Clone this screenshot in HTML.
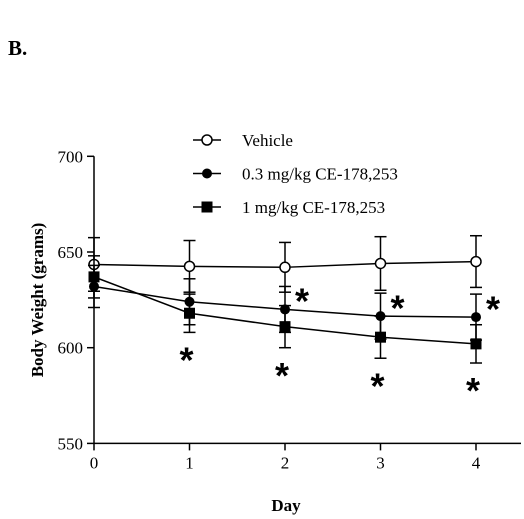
<!DOCTYPE html>
<html><head><meta charset="utf-8"><style>
body{margin:0;background:#fff;}
svg{display:block;font-family:"Liberation Serif",serif;}
</style></head><body>
<svg id="chart" width="524" height="519">
<text x="8" y="55" font-size="21" font-weight="bold">B.</text>
<g id="axes"></g>
<g id="series"></g>
<g id="legend"></g>
<text transform="translate(43,300) rotate(-90)" text-anchor="middle" font-size="17" font-weight="bold">Body Weight (grams)</text>
<text x="286" y="511" text-anchor="middle" font-size="17" font-weight="bold">Day</text>
</svg>
<script>
const days=[0,1,2,3,4];
const yTicks=[550,600,650,700];
const vehicle=[643.5,642.5,642,644,645];
const vehicleErr=[14,13.5,13,14,13.5];
const dose03=[632,624,620,616.5,616];
const dose03Err=[11,12,12,12,12];
const dose1=[637,618,611,605.5,602];
const dose1Err=[11,10,11,11,10];
const starsAbove=[null,null,true,true,true];
const starsBelow=[null,true,true,true,true];
const seriesNames=["Vehicle","0.3 mg/kg CE-178,253","1 mg/kg CE-178,253"];

const NS="http://www.w3.org/2000/svg";
const X=d=>94+d*95.5;
const Y=v=>347.7-(v-600)*1.914;
function mk(tag,attrs,parent){const e=document.createElementNS(NS,tag);for(const k in attrs)e.setAttribute(k,attrs[k]);parent.appendChild(e);return e;}
const axes=document.getElementById('axes'),ser=document.getElementById('series'),leg=document.getElementById('legend');

let a=mk('line',{x1:94,y1:Y(700),x2:94,y2:Y(550),stroke:'#000','stroke-width':1.5},axes);


a=mk('line',{x1:94,y1:Y(550),x2:521,y2:Y(550),stroke:'#000','stroke-width':1.5},axes);


yTicks.forEach(v=>{
  mk('line',{x1:87,y1:Y(v),x2:94,y2:Y(v),stroke:'#000','stroke-width':1.5},axes);
  const t=mk('text',{x:83,y:Y(v)+6,'text-anchor':'end','font-size':17},axes);t.textContent=v;
  
  
});
days.forEach(d=>{
  mk('line',{x1:X(d),y1:Y(550),x2:X(d),y2:Y(550)+7,stroke:'#000','stroke-width':1.5},axes);
  const t=mk('text',{x:X(d),y:Y(550)+25,'text-anchor':'middle','font-size':17},axes);t.textContent=d;
  
  
});

function marker(kind,x,y,parent){
  let m;
  if(kind==='open') m=mk('circle',{cx:x,cy:y,r:5,fill:'#fff',stroke:'#000','stroke-width':1.5},parent);
  else if(kind==='dot') m=mk('circle',{cx:x,cy:y,r:5,fill:'#000'},parent);
  else m=mk('rect',{x:x-5.5,y:y-5.5,width:11,height:11,fill:'#000'},parent);
  return m;
}
function drawSeries(vals,errs,kind,name){
  const g=mk('g',{},ser);
  
  
  mk('polyline',{points:vals.map((v,i)=>X(days[i])+','+Y(v)).join(' '),fill:'none',stroke:'#000','stroke-width':1.5},g);
  vals.forEach((v,i)=>{
    const x=X(days[i]);
    mk('line',{x1:x,y1:Y(v+errs[i]),x2:x,y2:Y(v-errs[i]),stroke:'#000','stroke-width':1.5},g);
    mk('line',{x1:x-6,y1:Y(v+errs[i]),x2:x+6,y2:Y(v+errs[i]),stroke:'#000','stroke-width':1.5},g);
    mk('line',{x1:x-6,y1:Y(v-errs[i]),x2:x+6,y2:Y(v-errs[i]),stroke:'#000','stroke-width':1.5},g);
  });
  vals.forEach((v,i)=>{
    const m=marker(kind,X(days[i]),Y(v),g);
    
    
  });
}
drawSeries(vehicle,vehicleErr,'open','vehicle-series');
drawSeries(dose03,dose03Err,'dot','dose-0-3-series');
drawSeries(dose1,dose1Err,'square','dose-1-series');

// star centre -> baseline offset (asterisk glyph sits ~0.55em above baseline)
const SF=36, SB=SF*0.56;
starsAbove.forEach((s,i)=>{ if(!s)return;
  const cy=Y(dose03[i]+dose03Err[i])+7;
  const t=mk('text',{x:X(days[i])+17,y:cy+SB,'text-anchor':'middle','font-size':SF,'font-weight':'bold','font-family':'Liberation Sans, sans-serif'},ser);
  t.textContent='*';
  
  
});
starsBelow.forEach((s,i)=>{ if(!s)return;
  const cy=Y(dose1[i]-dose1Err[i])+20;
  const t=mk('text',{x:X(days[i])-3,y:cy+SB,'text-anchor':'middle','font-size':SF,'font-weight':'bold','font-family':'Liberation Sans, sans-serif'},ser);
  t.textContent='*';
  
  
});

const kinds=['open','dot','square'];
seriesNames.forEach((n,i)=>{
  const y=140+i*33.5;
  const g=mk('g',{},leg);
  
  
  mk('line',{x1:193,y1:y,x2:221,y2:y,stroke:'#000','stroke-width':1.5},g);
  marker(kinds[i],207,y,g);
  const t=mk('text',{x:242,y:y+6,'font-size':17},g);t.textContent=n;
});
</script>
</body></html>
